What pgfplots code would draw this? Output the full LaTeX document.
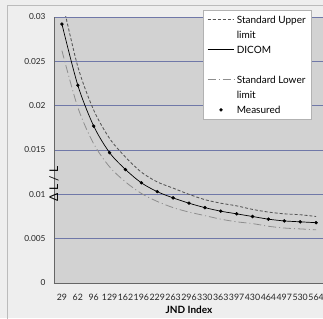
\documentclass[border=0pt]{standalone}
\usepackage{fontspec}
\setmainfont{Lato}
\usepackage{pgfplots}
\pgfplotsset{compat=1.18}
\definecolor{pagebg}{HTML}{EEEEEE}
\definecolor{plotbg}{HTML}{D2D2D2}
\definecolor{gridc}{HTML}{7078A8}
\definecolor{framec}{HTML}{BBBBBB}
\definecolor{upperc}{HTML}{555555}
\definecolor{lowerc}{HTML}{8E8E8E}
\begin{document}
\begin{tikzpicture}
\useasboundingbox[fill=pagebg] (-54pt,-35pt) rectangle (269pt,283pt);
\draw[framec, line width=0.8pt] (-47pt,-40pt) -- (-47pt,278pt) -- (290pt,278pt);
\begin{axis}[
  at={(0pt,0pt)}, anchor=south west,
  scale only axis, width=270pt, height=266pt,
  xmin=-0.5, xmax=16.5, ymin=0, ymax=0.03,
  axis background/.style={fill=plotbg},
  axis line style={draw=gray!80!black, line width=0.6pt},
  axis x line*=bottom, axis y line*=left,
  ymajorgrids, grid style={gridc, line width=0.7pt},
  xtick={0,1,2,3,4,5,6,7,8,9,10,11,12,13,14,15,16},
  xticklabels={29,62,96,129,162,196,229,263,296,330,363,397,430,464,497,530,564},
  ytick={0,0.005,0.01,0.015,0.02,0.025,0.03},
  scaled y ticks=false,
  yticklabel style={/pgf/number format/fixed, /pgf/number format/precision=3, xshift=-5pt, font=\fontsize{8.3}{9}\selectfont},
  xticklabel style={yshift=-8pt, font=\fontsize{8.8}{9}\selectfont},
  /pgf/number format/assume math mode=true,
  tick label style={text=black!85},
  major tick length=0pt,
  xlabel={\textbf{JND Index}},
  xlabel style={at={(axis description cs:0.5,0)}, anchor=center, yshift=-27pt, font=\fontsize{10}{11}\selectfont},
  ylabel={Δ L / L},
  ylabel style={at={(axis description cs:0,0.5)}, anchor=center, xshift=-34pt, yshift=0pt, font=\fontsize{12}{13}\selectfont},
  legend style={at={(axis description cs:0.552,1.026)}, anchor=north west,
    draw=gray!60, fill=white, font=\fontsize{10}{13.6}\selectfont,
    cells={anchor=west}, row sep=0pt, inner xsep=4pt, inner ysep=2pt},
  legend image code/.code={\draw[mark repeat=2,mark phase=2,#1] plot coordinates {(0cm,0cm) (0.47cm,0cm) (0.94cm,0cm)};},
]
\addplot[upperc, line width=0.85pt, dash pattern=on 3pt off 2pt, smooth] coordinates {
(0,0.0320) (1,0.0244) (2,0.0195) (3,0.0163) (4,0.0142) (5,0.0125) (6,0.0114) (7,0.0107) (8,0.0100) (9,0.0094) (10,0.0090) (11,0.0087) (12,0.0083) (13,0.0080) (14,0.0078) (15,0.0077) (16,0.0075)};
\addlegendentry{\strut Standard Upper}
\addlegendimage{empty legend}
\addlegendentry{\strut limit}
\addplot[black, line width=0.7pt, smooth] coordinates {
(0,0.0292) (1,0.0223) (2,0.0177) (3,0.0147) (4,0.0128) (5,0.0113) (6,0.0103) (7,0.0096) (8,0.0090) (9,0.0085) (10,0.0081) (11,0.0078) (12,0.0075) (13,0.0072) (14,0.0070) (15,0.0069) (16,0.0068)};
\addlegendentry{\strut DICOM}
\addlegendimage{empty legend}
\addlegendentry{\strut}
\addplot[lowerc, line width=0.8pt, dash pattern=on 8pt off 3pt on 1pt off 3pt, smooth] coordinates {
(0,0.0262) (1,0.0198) (2,0.0157) (3,0.0131) (4,0.0114) (5,0.0101) (6,0.0092) (7,0.0085) (8,0.0080) (9,0.0076) (10,0.0072) (11,0.0069) (12,0.0067) (13,0.0064) (14,0.0062) (15,0.0061) (16,0.0060)};
\addlegendentry{\strut Standard Lower}
\addlegendimage{empty legend}
\addlegendentry{\strut limit}
\addplot[only marks, mark=*, mark size=1.5pt, black] coordinates {
(0,0.0292) (1,0.0223) (2,0.0177) (3,0.0147) (4,0.0128) (5,0.0113) (6,0.0103) (7,0.0096) (8,0.0090) (9,0.0085) (10,0.0081) (11,0.0078) (12,0.0075) (13,0.0072) (14,0.0070) (15,0.0069) (16,0.0068)};
\addlegendentry{\strut Measured}
\end{axis}
\end{tikzpicture}
\end{document}
